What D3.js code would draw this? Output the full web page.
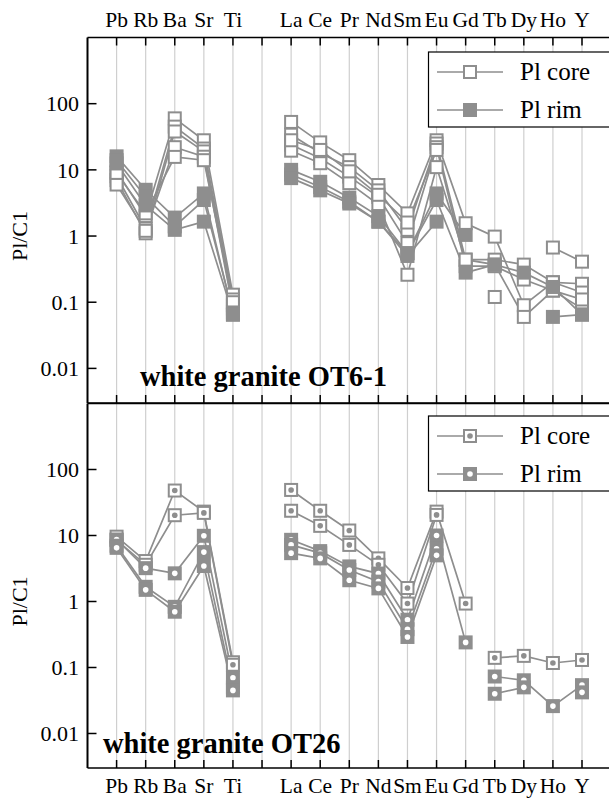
<!DOCTYPE html>
<html><head><meta charset="utf-8">
<script src="https://cdn.jsdelivr.net/npm/d3@7"></script>
<style>body{margin:0;background:#fff}svg{display:block}</style>
</head><body>
<svg id="chart" width="609" height="803"></svg>
<script>
// ---------- data ----------
const categories = ["Pb","Rb","Ba","Sr","Ti","","La","Ce","Pr","Nd","Sm","Eu","Gd","Tb","Dy","Ho","Y"];
const yTicks = [100, 10, 1, 0.1, 0.01];
const yTickLabels = ["100","10","1","0.1","0.01"];
const legendLabels = ["Pl core", "Pl rim"];
const panelTitles = ["white granite OT6-1", "white granite OT26"];
const yLabel = "Pl/C1";

// OT6-1 plagioclase core (open squares)
const ot61Core = [
  [9.5, 2.0, 60, 28, 0.13, null, 53, 26, 14, 5.9, 2.2, 28, 1.56, 0.98, 0.09, 0.2, 0.19],
  [8.0, 1.3, 45, 21, 0.11, null, 34, 18, 11, 4.9, 1.24, 25, 0.44, 0.44, 0.37, 0.2, 0.14],
  [7.0, 1.1, 38, 19, 0.09, null, 24, 15, 7.9, 3.9, 0.78, 22, 0.35, 0.35, 0.22, 0.15, 0.08],
  [6.0, 1.2, 22, 15.8, 0.08, null, 19.5, 12.6, 6.3, 3.0, 0.26, 11, 0.44, 0.37, 0.06, 0.15, 0.11],
  [9.0, 2.2, 15.7, 14, 0.1, null, 28, 20, 9.5, 4.2, 1.6, 20, null, 0.12, null, 0.67, 0.41]
];
// OT6-1 plagioclase rim (filled squares)
const ot61Rim = [
  [16, 5.0, 1.9, 4.4, 0.065, null, 10, 6.6, 3.8, 2.0, 0.55, 4.4, 1.04, null, null, null, null],
  [14, 3.9, 1.4, 3.5, 0.07, null, 8.5, 5.5, 3.3, 1.65, 0.55, 3.5, 0.28, 0.37, 0.28, 0.17, 0.065],
  [12.5, 2.9, 1.24, 1.65, 0.065, null, 7.5, 4.9, 3.1, 1.65, 0.5, 1.65, null, null, null, 0.06, 0.065]
];
// OT26 plagioclase core
const ot26Core = [
  [9.6, 4.1, 48, 23, 0.12, null, 49, 23.7, 11.9, 4.5, 1.6, 23, 0.93, null, null, null, null],
  [8.5, 3.6, 20.3, 22, 0.11, null, 23.7, 14, 7.2, 3.6, 0.93, 20.5, null, 0.14, 0.15, 0.117, 0.13]
];
// OT26 plagioclase rim
const ot26Rim = [
  [8.7, 3.2, 2.67, 9.9, 0.07, null, 8.6, 5.8, 3.4, 2.65, 0.53, 10, 0.24, null, null, null, null],
  [7.0, 1.67, 0.83, 5.6, 0.05, null, 7.2, 5.4, 3.0, 2.0, 0.38, 6.3, null, 0.073, 0.064, 0.026, 0.054],
  [6.5, 1.5, 0.7, 3.45, 0.045, null, 5.4, 4.5, 2.1, 1.58, 0.29, 5.0, null, 0.04, 0.05, null, 0.042]
];

// ---------- drawing ----------
const FONT = '"Liberation Serif", serif';
const svg = d3.select("#chart");
svg.append("rect").attr("width",609).attr("height",803).attr("fill","#fff");
const GRAY = "#8e8e8e";

function txt(sel, x, y, s, size, anchor, bold) {
  return sel.append("text").attr("x",x).attr("y",y).style("font-family",FONT).style("font-size",size+"px")
    .style("font-weight", bold ? "bold" : "normal").attr("text-anchor",anchor || "start").attr("fill","#000").text(s);
}

const x = d3.scaleLinear().domain([-1, 16]).range([87.5, 582]);
const left = 87.5, right = 615;

const panels = [
  {top: 37.5, bottom: 403, core: ot61Core, rim: ot61Rim, style: "plain", title: panelTitles[0],
   titleX: 140, titleY: 386, legendY: 52, topTicks: true},
  {top: 403.5, bottom: 768, core: ot26Core, rim: ot26Rim, style: "dot", title: panelTitles[1],
   titleX: 103, titleY: 753, legendY: 416, topTicks: false}
];

function drawMarker(g, cx, cy, kind, style, s) {
  const h = s/2;
  if (kind === "core") {
    g.append("rect").attr("x",cx-h+1).attr("y",cy-h+1).attr("width",s-2).attr("height",s-2)
      .attr("fill","#fff").attr("stroke",GRAY).attr("stroke-width",2);
    if (style === "dot") {
      g.append("circle").attr("cx",cx).attr("cy",cy).attr("r",2.8).attr("fill",GRAY);
    }
  } else {
    g.append("rect").attr("x",cx-h).attr("y",cy-h).attr("width",s).attr("height",s).attr("fill",GRAY);
    if (style === "dot") {
      g.append("circle").attr("cx",cx).attr("cy",cy).attr("r",2.8).attr("fill","#fff");
    }
  }
}

panels.forEach((p, pi) => {
  const y = d3.scaleLog().domain([1000, 0.003]).range([p.top, p.bottom]);
  const g = svg.append("g");

  categories.forEach((c, i) => {
    g.append("line").attr("x1",x(i)).attr("x2",x(i)).attr("y1",p.top).attr("y2",p.bottom)
      .attr("stroke","#cfcfcf").attr("stroke-width",1.2);
  });

  const line = d3.line().defined(d => d[1] != null).x(d => x(d[0])).y(d => y(d[1]));
  const groups = [{data: p.core, kind: "core"}, {data: p.rim, kind: "rim"}];
  groups.forEach(gr => {
    gr.data.forEach(vals => {
      const pts = vals.map((v,i) => [i, v]);
      g.append("path").attr("d", line(pts)).attr("fill","none").attr("stroke",GRAY).attr("stroke-width",1.7);
    });
  });
  groups.forEach(gr => {
    gr.data.forEach(vals => {
      vals.forEach((v,i) => { if (v != null) drawMarker(g, x(i), y(v), gr.kind, p.style, 14); });
    });
  });

  g.append("line").attr("x1",left).attr("x2",right).attr("y1",p.top).attr("y2",p.top).attr("stroke","#000").attr("stroke-width",1.5);
  g.append("line").attr("x1",left).attr("x2",right).attr("y1",p.bottom).attr("y2",p.bottom).attr("stroke","#000").attr("stroke-width",1.5);
  g.append("line").attr("x1",left).attr("x2",left).attr("y1",p.top).attr("y2",p.bottom).attr("stroke","#000").attr("stroke-width",2);

  categories.forEach((c, i) => {
    if (p.topTicks) g.append("line").attr("x1",x(i)).attr("x2",x(i)).attr("y1",p.top).attr("y2",p.top+8).attr("stroke","#000").attr("stroke-width",1.5);
    g.append("line").attr("x1",x(i)).attr("x2",x(i)).attr("y1",p.bottom).attr("y2",p.bottom-8).attr("stroke","#000").attr("stroke-width",1.5);
  });

  yTicks.forEach((t, k) => {
    g.append("line").attr("x1",left).attr("x2",left+9).attr("y1",y(t)).attr("y2",y(t)).attr("stroke","#000").attr("stroke-width",1.5);
    txt(g, 79, y(t), yTickLabels[k], 22, "end").attr("dy","0.35em");
  });
  txt(g, 0, 0, yLabel, 22, "middle").attr("transform",`translate(27,${y(1)}) rotate(-90)`);

  txt(g, p.titleX, p.titleY, p.title, 28.5, "start", true);

  const lg = g.append("g");
  lg.append("rect").attr("x",428.5).attr("y",p.legendY).attr("width",200).attr("height",75)
    .attr("fill","#fff").attr("stroke","#000").attr("stroke-width",1.2);
  ["core","rim"].forEach((k, j) => {
    const ly = p.legendY + 20 + j*38;
    lg.append("line").attr("x1",437).attr("x2",503).attr("y1",ly).attr("y2",ly).attr("stroke",GRAY).attr("stroke-width",1.7);
    drawMarker(lg, 470, ly, k, p.style, 14);
    txt(lg, 520, ly, legendLabels[j], 25, "start").attr("dy","0.33em");
  });
});

categories.forEach((c, i) => {
  txt(svg, x(i), 26.5, c, 21.5, "middle");
  txt(svg, x(i), 793, c, 21.5, "middle");
});
</script>
</body></html>
